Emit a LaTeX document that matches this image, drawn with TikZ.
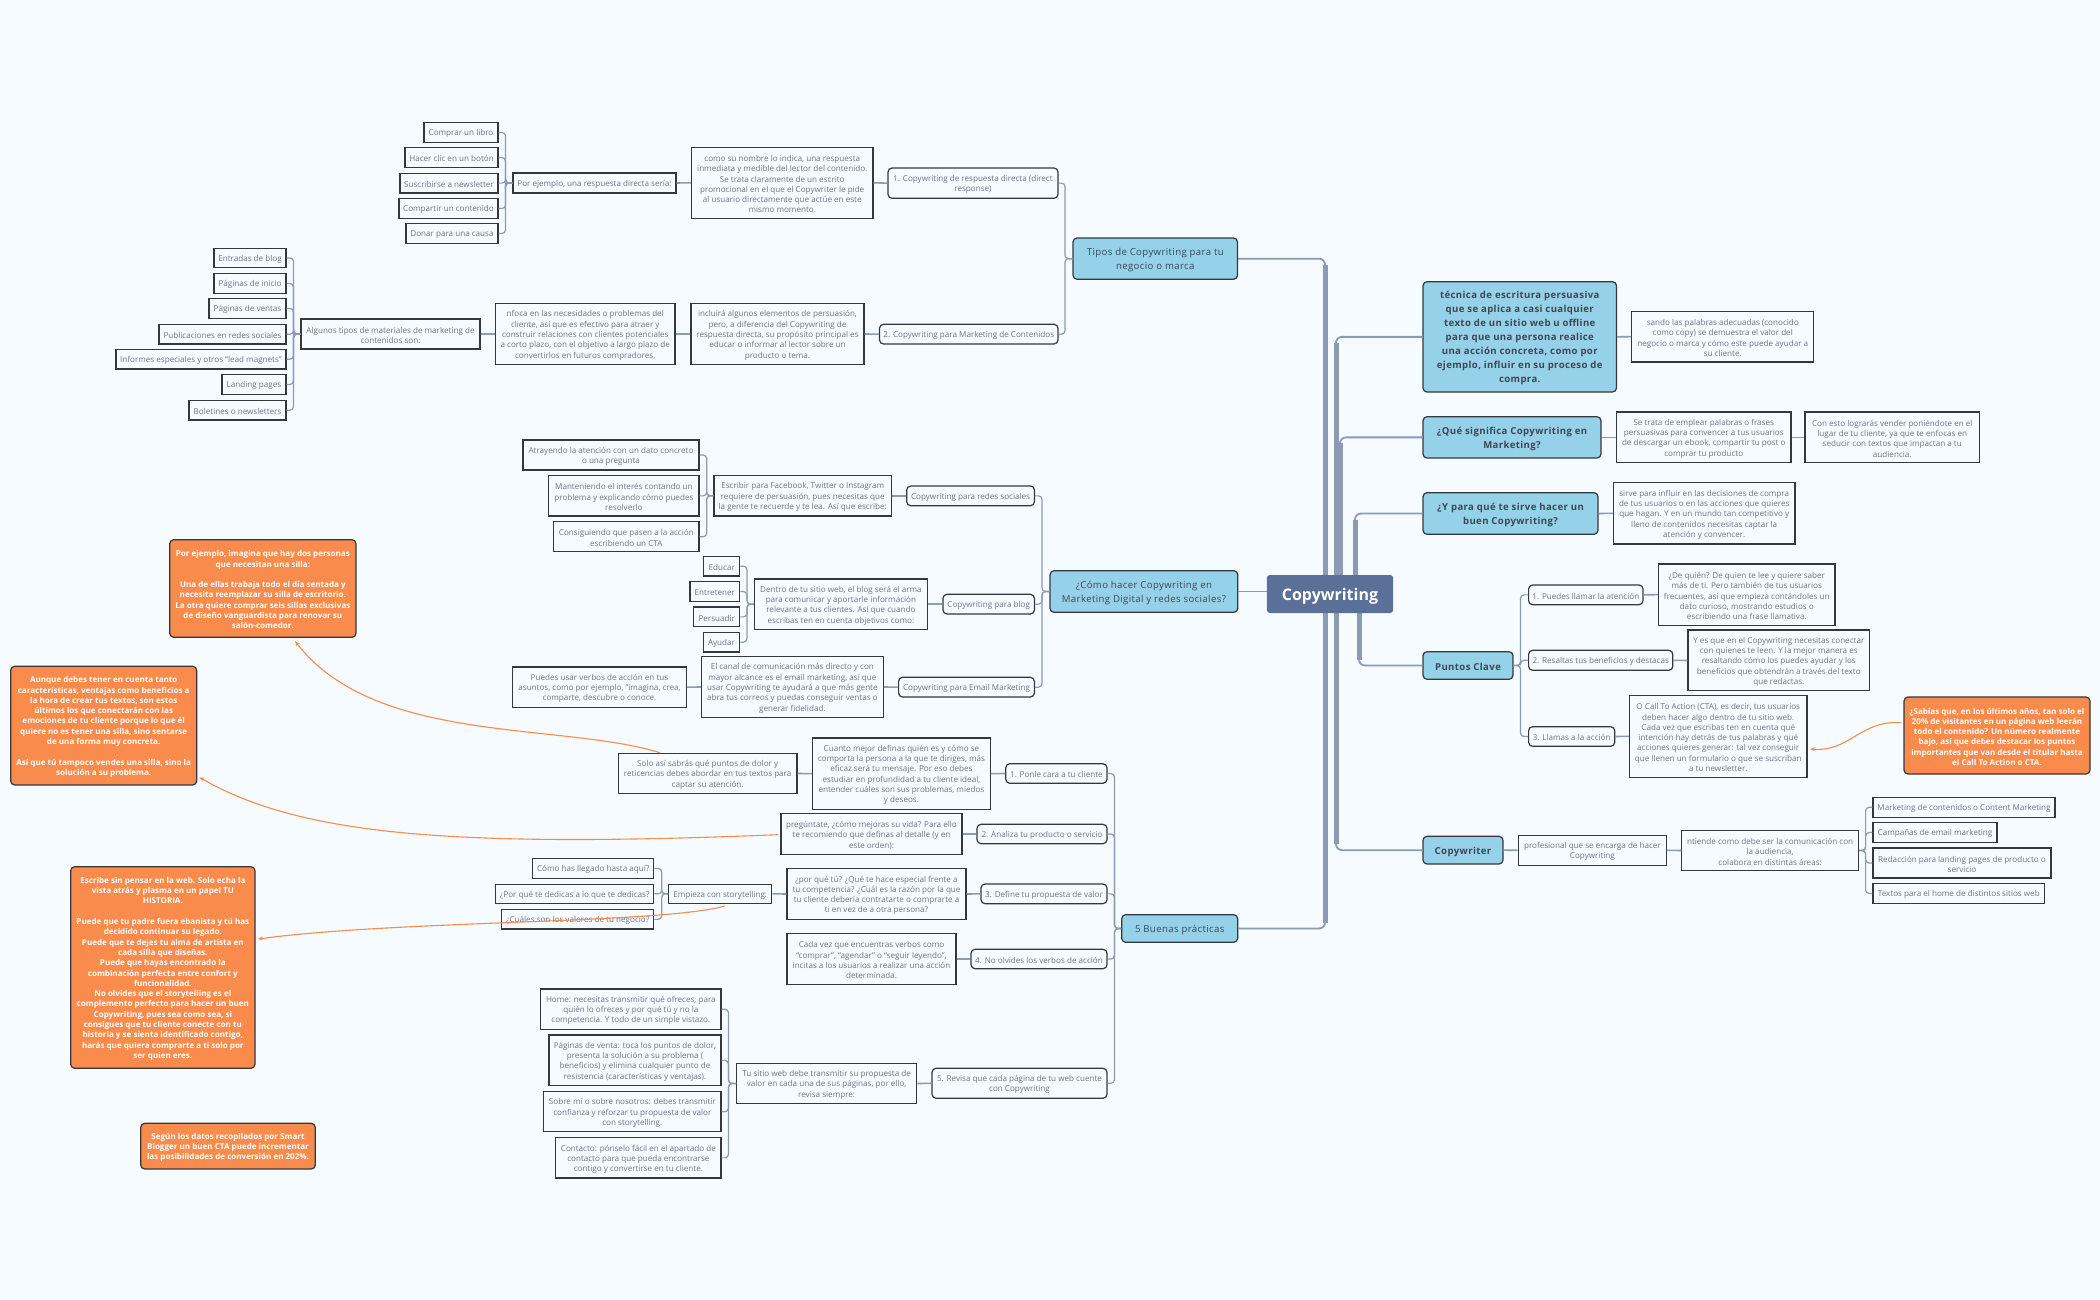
\documentclass[tikz,border=0pt]{standalone}
\usepackage{fontspec}
\setmainfont{Open Sans}
\newfontfamily\spacedfam[LetterSpace=4]{Open Sans}
\usetikzlibrary{calc,arrows.meta}
\definecolor{bgc}{HTML}{F5FBFF}
\definecolor{bluec}{HTML}{95D1E8}
\definecolor{orangec}{HTML}{F98B4C}
\definecolor{centerc}{HTML}{5B7098}
\definecolor{linec}{HTML}{8D9AB3}
\definecolor{edgec}{HTML}{33383F}
\definecolor{leaftext}{HTML}{6E7484}
\definecolor{maintext}{HTML}{3C4757}
\tikzset{
  base/.style={draw=edgec,line width=1.2pt,inner sep=0pt,align=center,anchor=center},
  leaf/.style={base,text=leaftext,font=\fontsize{8.1}{10.3}\selectfont},
  subt/.style={base,rounded corners=4pt,text=leaftext,font=\fontsize{8.1}{10.3}\selectfont},
  mainb/.style={base,rounded corners=4pt,fill=bluec,text=maintext,font=\spacedfam\fontsize{9.6}{14}\selectfont},
  mainbold/.style={base,rounded corners=4pt,fill=bluec,text=maintext,font=\spacedfam\fontsize{9.6}{14}\selectfont\bfseries},
  orangeb/.style={base,rounded corners=4pt,fill=orangec,text=white,font=\fontsize{8.05}{10.3}\selectfont\bfseries},
  centerb/.style={draw=none,inner sep=0pt,align=center,rounded corners=3pt,fill=centerc,text=white,font=\fontsize{16}{20}\selectfont\bfseries},
  conn/.style={draw=linec,line width=1.2pt,rounded corners=3.5pt},
  stem/.style={draw=linec,line width=1.6pt},
  tr/.style={draw=linec,line width=1.8pt,rounded corners=6pt},
  trk/.style={draw=linec,line width=5pt},
  call/.style={draw=orangec,line width=1.1pt,-{Stealth[length=5pt,width=4pt]}},
}
% name x1 y1 x2 y2 style text
\newcommand{\nd}[7]{%
  \pgfmathsetmacro{\ndcx}{(#2+#4)/2}\pgfmathsetmacro{\ndcy}{(#3+#5)/2}%
  \pgfmathsetmacro{\ndw}{#4-#2}\pgfmathsetmacro{\ndh}{#5-#3}%
  \node[#6,minimum width=\ndw pt,minimum height=\ndh pt] (#1) at (\ndcx,\ndcy) {\rule{0pt}{1.09em}#7};}
% child branch on the left of parent: parent, child, x
\newcommand{\brl}[3]{\coordinate (tmpb) at (#3,0);
  \draw[conn] (#2.east) -- (tmpb |- #2.east) -- (tmpb |- #1.west) -- (#1.west);}
\newcommand{\brr}[3]{\coordinate (tmpb) at (#3,0);
  \draw[conn] (#2.west) -- (tmpb |- #2.west) -- (tmpb |- #1.east) -- (#1.east);}
\newcommand{\stl}[2]{\draw[stem] (#1.west) -- (#2.east);}
\newcommand{\str}[2]{\draw[stem] (#1.east) -- (#2.west);}
% trunk: anchor of child, x
\newcommand{\trunk}[2]{\coordinate (tmpt) at (#2,0);
  \draw[tr] (#1) -- (tmpt |- #1) -- (tmpt |- root.center);
  \draw[trk] ($(tmpt |- #1)!6pt!(tmpt |- root.center)$) -- (tmpt |- root.center);}
\begin{document}
\begin{tikzpicture}[x=1pt,y=-1pt]
\useasboundingbox (0,0) rectangle (2100,1300);
\fill[bgc] (0,0) rectangle (2100,1300);
\coordinate (root) at (1330,594);
% ---------- main topics
\nd{tipos}{1073}{238}{1237.5}{279.3}{mainb}{Tipos de Copywriting para tu\\negocio o marca}
\nd{como}{1050}{570.7}{1237.8}{612.3}{mainb}{¿Cómo hacer Copywriting en\\Marketing Digital y redes sociales?}
\nd{buenas}{1121.7}{914.7}{1237.7}{942.3}{mainb}{5 Buenas prácticas}
\nd{tecnica}{1423}{281.7}{1616.5}{392}{mainbold}{técnica de escritura persuasiva\\que se aplica a casi cualquier\\texto de un sitio web u offline\\para que una persona realice\\una acción concreta, como por\\ejemplo, influir en su proceso de\\compra.}
\nd{que}{1423}{416.7}{1601}{458}{mainbold}{¿Qué significa Copywriting en\\Marketing?}
\nd{ypara}{1423}{492.7}{1598}{534.3}{mainbold}{¿Y para qué te sirve hacer un\\buen Copywriting?}
\nd{puntos}{1423}{651.7}{1513}{679.3}{mainbold}{Puntos Clave}
\nd{cwriter}{1423}{836.3}{1503}{864}{mainbold}{Copywriter}
% trunks
\trunk{tipos.east}{1325}
\trunk{buenas.east}{1325}
\trunk{tecnica.west}{1336}
\trunk{cwriter.west}{1336}
\trunk{que.west}{1340}
\trunk{ypara.west}{1355}
\trunk{puntos.west}{1359}
\draw[tr] (como.east) -- (root |- como.east);
\node[centerb,minimum width=126.3pt,minimum height=38pt] (center) at (root) {\rule{0pt}{16pt}Copywriting};
% ---------- Tipos
\nd{t1}{888}{168}{1058}{198.3}{subt}{1. Copywriting de respuesta directa (direct\\response)}
\nd{t2}{879.5}{324.3}{1058}{344}{subt}{2. Copywriting para Marketing de Contenidos}
\nd{t1a}{691.5}{147.3}{873}{218.3}{leaf}{como su nombre lo indica, una respuesta\\inmediata y medible del lector del contenido.\\Se trata claramente de un escrito\\promocional en el que el Copywriter le pide\\al usuario directamente que actúe en este\\mismo momento.}
\nd{t1b}{513}{173}{676}{193}{leaf}{Por ejemplo, una respuesta directa sería:}
\nd{t11}{424}{122.7}{498}{142.3}{leaf}{Comprar un libro}
\nd{t12}{405}{147.7}{498}{167.3}{leaf}{Hacer clic en un botón}
\nd{t13}{400}{173.3}{498}{193}{leaf}{Suscribirse a newsletter}
\nd{t14}{399}{198.7}{498}{218.3}{leaf}{Compartir un contenido}
\nd{t15}{406}{223.7}{498}{243.3}{leaf}{Donar para una causa}
\nd{t2a}{691}{303.7}{864}{364.3}{leaf}{incluirá algunos elementos de persuasión,\\pero, a diferencia del Copywriting de\\respuesta directa, su propósito principal es\\educar o informar al lector sobre un\\producto o tema.}
\nd{t2b}{495.5}{303.7}{675}{364.3}{leaf}{nfoca en las necesidades o problemas del\\cliente, así que es efectivo para atraer y\\construir relaciones con clientes potenciales\\a corto plazo, con el objetivo a largo plazo de\\convertirlos en futuros compradores.}
\nd{t2c}{301}{319}{480}{349}{leaf}{Algunos tipos de materiales de marketing de\\contenidos son:}
\nd{t21}{214}{248.3}{286}{267.7}{leaf}{Entradas de blog}
\nd{t22}{214}{273.7}{286}{293.3}{leaf}{Páginas de inicio}
\nd{t23}{209}{298.7}{286}{318.3}{leaf}{Páginas de ventas}
\nd{t24}{159}{324.3}{286}{344}{leaf}{Publicaciones en redes sociales}
\nd{t25}{116}{349.3}{286}{369}{leaf}{Informes especiales y otros “lead magnets”}
\nd{t26}{222}{374.7}{286}{394.3}{leaf}{Landing pages}
\nd{t27}{189}{400.3}{286}{420}{leaf}{Boletines o newsletters}
\brl{tipos}{t1}{1065}\brl{tipos}{t2}{1065}
\stl{t1}{t1a}\stl{t1a}{t1b}
\stl{t2}{t2a}\stl{t2a}{t2b}\stl{t2b}{t2c}
\foreach \c in {t11,t12,t13,t14,t15}{\brl{t1b}{\c}{505.5}}
\foreach \c in {t21,t22,t23,t24,t25,t26,t27}{\brl{t2c}{\c}{293.5}}
% ---------- Cómo hacer
\nd{c1}{906.7}{486}{1034.4}{505.7}{subt}{Copywriting para redes sociales}
\nd{c2}{943}{594.3}{1034.4}{614}{subt}{Copywriting para blog}
\nd{c3}{898.6}{677.3}{1034.4}{697}{subt}{Copywriting para Email Marketing}
\nd{c1a}{714}{475.7}{891.4}{516}{leaf}{Escribir para Facebook, Twitter o Instagram\\requiere de persuasión, pues necesitas que\\la gente te recuerde y te lea. Así que escribe:}
\nd{c11}{523}{440}{699}{470}{leaf}{Atrayendo la atención con un dato concreto\\o una pregunta}
\nd{c12}{548.8}{475.7}{699}{516}{leaf}{Manteniendo el interés contando un\\problema y explicando cómo puedes\\resolverlo}
\nd{c13}{553.6}{521.7}{699}{551.7}{leaf}{Consiguiendo que pasen a la acción\\escribiendo un CTA}
\nd{c2a}{754.5}{579}{927.3}{629.3}{leaf}{Dentro de tu sitio web, el blog será el arma\\para comunicar y aportarle información\\relevante a tus clientes. Así que cuando\\escribas ten en cuenta objetivos como:}
\nd{c21}{703.8}{556.3}{739.7}{576}{leaf}{Educar}
\nd{c22}{690}{581.7}{739.7}{601.3}{leaf}{Entretener}
\nd{c23}{693.8}{607}{739.7}{626.7}{leaf}{Persuadir}
\nd{c24}{703.3}{632.3}{739.7}{652}{leaf}{Ayudar}
\nd{c3a}{701.4}{656.7}{883.3}{717.3}{leaf}{El canal de comunicación más directo y con\\mayor alcance es el email marketing, así que\\usar Copywriting te ayudará a que más gente\\abra tus correos y puedas conseguir ventas o\\generar fidelidad.}
\nd{c3b}{512.4}{667}{686.6}{707.3}{leaf}{Puedes usar verbos de acción en tus\\asuntos, como por ejemplo, "imagina, crea,\\comparte, descubre o conoce.}
\foreach \c in {c1,c2,c3}{\brl{como}{\c}{1042}}
\stl{c1}{c1a}\stl{c2}{c2a}\stl{c3}{c3a}\stl{c3a}{c3b}
\foreach \c in {c11,c12,c13}{\brl{c1a}{\c}{706.7}}
\foreach \c in {c21,c22,c23,c24}{\brl{c2a}{\c}{747}}
% ---------- 5 Buenas
\nd{b1}{1005.8}{763.7}{1107}{783.3}{subt}{1. Ponle cara a tu cliente}
\nd{b2}{977}{824.3}{1107}{843.7}{subt}{2. Analiza tu producto o servicio}
\nd{b3}{981}{884}{1107}{903.7}{subt}{3. Define tu propuesta de valor}
\nd{b4}{971}{949.3}{1107}{968.7}{subt}{4. No olvides los verbos de acción}
\nd{b5}{932}{1068.3}{1107}{1098.3}{subt}{5. Revisa que cada página de tu web cuente\\con Copywriting}
\nd{b1a}{812.4}{738}{990.5}{809.3}{leaf}{Cuanto mejor definas quién es y cómo se\\comporta la persona a la que te diriges, más\\eficaz será tu mensaje. Por eso debes\\estudiar en profundidad a tu cliente ideal,\\entender cuáles son sus problemas, miedos\\y deseos.}
\nd{b1b}{618.3}{753.3}{797}{793.7}{leaf}{Solo así sabrás qué puntos de dolor y\\reticencias debes abordar en tus textos para\\captar su atención.}
\nd{b2a}{781}{813.7}{962}{854.3}{leaf}{pregúntate, ¿cómo mejoras su vida? Para ello\\te recomiendo que definas al detalle (y en\\este orden):}
\nd{b3a}{787}{868.7}{966}{919.3}{leaf}{¿por qué tú? ¿Qué te hace especial frente a\\tu competencia? ¿Cuál es la razón por la que\\tu cliente debería contratarte o comprarte a\\ti en vez de a otra persona?}
\nd{b3b}{668.7}{884.3}{771.7}{903.3}{leaf}{Empieza con storytelling:}
\nd{b31}{532.7}{858.7}{653.7}{878.3}{leaf}{Cómo has llegado hasta aquí?}
\nd{b32}{495.7}{884.3}{653.7}{903.3}{leaf}{¿Por qué te dedicas a lo que te dedicas?}
\nd{b33}{501.7}{909.7}{653.7}{929}{leaf}{¿Cuáles son los valores de tu negocio?}
\nd{b4a}{787}{933.7}{956}{984.3}{leaf}{Cada vez que encuentras verbos como\\“comprar”, “agendar” o “seguir leyendo”,\\incitas a los usuarios a realizar una acción\\determinada.}
\nd{b5a}{736.6}{1063.3}{916.7}{1103.7}{leaf}{Tu sitio web debe transmitir su propuesta de\\valor en cada una de sus páginas, por ello,\\revisa siempre:}
\nd{b51}{540.7}{989}{721}{1029.3}{leaf}{Home: necesitas transmitir qué ofreces, para\\quién lo ofreces y por qué tú y no la\\competencia. Y todo de un simple vistazo.}
\nd{b52}{549}{1035}{721}{1085.7}{leaf}{Páginas de venta: toca los puntos de dolor,\\presenta la solución a su problema (\\beneficios) y elimina cualquier punto de\\resistencia (características y ventajas).}
\nd{b53}{543.7}{1091.7}{721}{1131.7}{leaf}{Sobre mí o sobre nosotros: debes transmitir\\confianza y reforzar tu propuesta de valor\\con storytelling.}
\nd{b54}{555.7}{1137.7}{721}{1178}{leaf}{Contacto: pónselo fácil en el apartado de\\contacto para que pueda encontrarse\\contigo y convertirse en tu cliente.}
\foreach \c in {b1,b2,b3,b4,b5}{\brl{buenas}{\c}{1114.5}}
\stl{b1}{b1a}\stl{b1a}{b1b}\stl{b2}{b2a}\stl{b3}{b3a}\stl{b3a}{b3b}\stl{b4}{b4a}\stl{b5}{b5a}
\foreach \c in {b31,b32,b33}{\brl{b3b}{\c}{661.7}}
\foreach \c in {b51,b52,b53,b54}{\brl{b5a}{\c}{728.5}}
% ---------- right side
\nd{r1}{1631.7}{311.3}{1813.8}{362}{leaf}{sando las palabras adecuadas (conocido\\como copy) se demuestra el valor del\\negocio o marca y cómo este puede ayudar a\\su cliente.}
\nd{r2}{1616.5}{412}{1791}{462.7}{leaf}{Se trata de emplear palabras o frases\\persuasivas para convencer a tus usuarios\\de descargar un ebook, compartir tu post o\\comprar tu producto}
\nd{r2b}{1805}{412}{1979.5}{462.7}{leaf}{Con esto lograrás vender poniéndote en el\\lugar de tu cliente, ya que te enfocas en\\seducir con textos que impactan a tu\\audiencia.}
\nd{r3}{1613.4}{482.7}{1795}{544}{leaf}{sirve para influir en las decisiones de compra\\de tus usuarios o en las acciones que quieres\\que hagan. Y en un mundo tan competitivo y\\lleno de contenidos necesitas captar la\\atención y convencer.}
\nd{p1}{1528.6}{585}{1643}{604.7}{subt}{1. Puedes llamar la atención}
\nd{p2}{1528.6}{650.3}{1672.8}{670.3}{subt}{2. Resaltas tus beneficios y destacas}
\nd{p3}{1528.6}{726.7}{1614.7}{746.3}{subt}{3. Llamas a la acción}
\nd{p1a}{1658.5}{564}{1835}{625.3}{leaf}{¿De quién? De quien te lee y quiere saber\\más de ti. Pero también de tus usuarios\\frecuentes, así que empieza contándoles un\\dato curioso, mostrando estudios o\\escribiendo una frase llamativa.}
\nd{p2a}{1688}{630}{1869.6}{690.7}{leaf}{Y es que en el Copywriting necesitas conectar\\con quienes te leen. Y la mejor manera es\\resaltando cómo los puedes ayudar y los\\beneficios que obtendrán a través del texto\\que redactas.}
\nd{p3a}{1629.5}{695.3}{1807}{777.3}{leaf}{O Call To Action (CTA), es decir, tus usuarios\\deben hacer algo dentro de tu sitio web.\\Cada vez que escribas ten en cuenta qué\\intención hay detrás de tus palabras y qué\\acciones quieres generar: tal vez conseguir\\que llenen un formulario o que se suscriban\\a tu newsletter.}
\nd{w1}{1518.3}{835.3}{1666.5}{865.3}{leaf}{profesional que se encarga de hacer\\Copywriting}
\nd{w2}{1681.7}{830.3}{1858.5}{870.7}{leaf}{ntiende como debe ser la comunicación con\\la audiencia,\\colabora en distintas áreas:}
\nd{w21}{1873}{797.3}{2055}{817.3}{leaf}{Marketing de contenidos o Content Marketing}
\nd{w22}{1873}{822.7}{1997}{842.3}{leaf}{Campañas de email marketing}
\nd{w23}{1873}{848}{2051}{878}{leaf}{Redacción para landing pages de producto o\\servicio}
\nd{w24}{1873}{883.7}{2044.6}{903.3}{leaf}{Textos para el home de distintos sitios web}
\str{tecnica}{r1}\str{que}{r2}\str{r2}{r2b}\str{ypara}{r3}
\foreach \c in {p1,p2,p3}{\brr{puntos}{\c}{1520.5}}
\str{p1}{p1a}\str{p2}{p2a}\str{p3}{p3a}
\str{cwriter}{w1}\str{w1}{w2}
\foreach \c in {w21,w22,w23,w24}{\brr{w2}{\c}{1865.6}}
% ---------- orange notes
\nd{o1}{169.7}{539.7}{356}{637.3}{orangeb}{Por ejemplo, imagina que hay dos personas\\que necesitan una silla:\\[10.3pt]Una de ellas trabaja todo el día sentada y\\necesita reemplazar su silla de escritorio.\\La otra quiere comprar seis sillas exclusivas\\de diseño vanguardista para renovar su\\salón-comedor.}
\nd{o2}{10.7}{666.3}{196.7}{785}{orangeb}{Aunque debes tener en cuenta tanto\\características, ventajas como beneficios a\\la hora de crear tus textos, son estos\\últimos los que conectarán con las\\emociones de tu cliente porque lo que él\\quiere no es tener una silla, sino sentarse\\de una forma muy concreta.\\[10.3pt]Así que tú tampoco vendes una silla, sino la\\solución a su problema.}
\nd{o3}{70.7}{866.7}{255}{1068.3}{orangeb}{Escribe sin pensar en la web. Solo echa la\\vista atrás y plasma en un papel TU\\HISTORIA.\\[10.3pt]Puede que tu padre fuera ebanista y tú has\\decidido continuar su legado.\\Puede que te dejes tu alma de artista en\\cada silla que diseñas.\\Puede que hayas encontrado la\\combinación perfecta entre confort y\\funcionalidad.\\No olvides que el storytelling es el\\complemento perfecto para hacer un buen\\Copywriting, pues sea como sea, si\\consigues que tu cliente conecte con tu\\historia y se sienta identificado contigo,\\harás que quiera comprarte a ti solo por\\ser quien eres.}
\nd{o4}{140.7}{1123.3}{315.3}{1169}{orangeb}{Según los datos recopilados por Smart\\Blogger un buen CTA puede incrementar\\las posibilidades de conversión en 202\%.}
\nd{o5}{1904}{697}{2090}{774}{orangeb}{¿Sabías que, en los últimos años, tan solo el\\20\% de visitantes en un página web leerán\\todo el contenido? Un número realmente\\bajo, así que debes destacar los puntos\\importantes que van desde el titular hasta\\el Call To Action o CTA.}
% ---------- callouts
\coordinate (e1) at (660,752.7);\coordinate (h1) at (295,641);
\coordinate (e2) at (778,834.7);\coordinate (h2) at (199.3,777.3);
\coordinate (e3) at (725,906);\coordinate (h3) at (258,939);
\coordinate (e4) at (1901,722.7);\coordinate (h4) at (1810,749);
\draw[call] (e1) .. controls (560,722) and (375,745) .. (h1);
\draw[call] (e2) .. controls (450,848) and (300,835) .. (h2);
\draw[call] (e3) .. controls (660,924) and (400,920) .. (h3);
\draw[call] (e4) .. controls (1860,720) and (1850,752) .. (h4);
\end{tikzpicture}
\end{document}
